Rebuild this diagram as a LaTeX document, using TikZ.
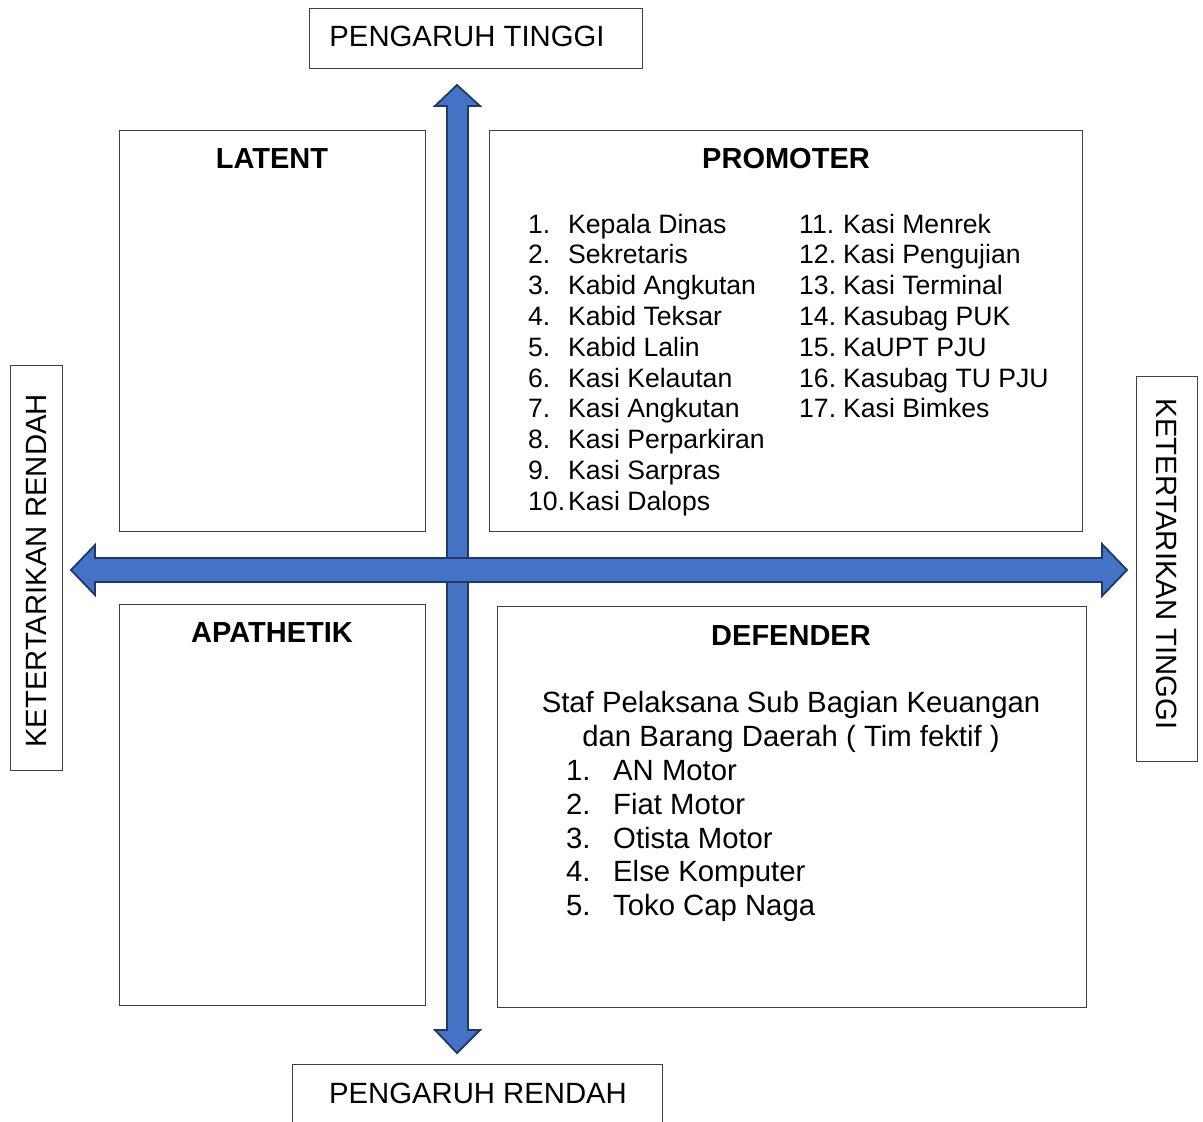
\documentclass[tikz,border=0pt]{standalone}
\usepackage{fontspec}
\setmainfont{Liberation Sans}
\definecolor{axisblue}{HTML}{4472C4}
\definecolor{axisline}{HTML}{1F3864}
\begin{document}
\begin{tikzpicture}[x=1pt,y=-1pt,
  box/.style={draw=black!75,line width=1pt,inner sep=0pt},
  ttl/.style={font=\fontsize{29}{33}\selectfont\bfseries,anchor=base,inner sep=0pt},
  lbl/.style={font=\fontsize{29.3}{33.7}\selectfont,anchor=base,inner sep=0pt},
  li/.style={font=\fontsize{26.6}{30.8}\selectfont,anchor=base west,inner sep=0pt},
  dl/.style={font=\fontsize{29.3}{33.7}\selectfont,anchor=base west,inner sep=0pt},
  axis/.style={fill=axisblue,draw=axisline,line width=1.8pt,line join=miter}]
\useasboundingbox (0,0) rectangle (1203,1122);
\fill[white] (0,0) rectangle (1203,1122);

% quadrant boxes
\node[box,minimum width=306pt,minimum height=401pt] (latent) at (272,330.5) {};
\node[box,minimum width=593pt,minimum height=401pt] (promoter) at (785.5,330.5) {};
\node[box,minimum width=306pt,minimum height=401pt] (apathetik) at (272,804.5) {};
\node[box,minimum width=589pt,minimum height=401pt] (defender) at (791.5,806.5) {};

% outer label boxes
\node[box,minimum width=333pt,minimum height=60pt] (topbox) at (475.5,38) {};
\node[box,minimum width=52pt,minimum height=405pt] (leftbox) at (36,567.5) {};
\node[box,minimum width=61pt,minimum height=385pt] (rightbox) at (1166.5,568.5) {};
\coordinate (bl) at (292,1122);
\coordinate (br) at (662,1122);
\draw[draw=black!75,line width=1pt] (bl) |- (477,1064) -| (br);

% axes
\draw[axis] (457,85) -- (480,106) -- (468,106) -- (468,1030) -- (480,1030) -- (457,1053)
  -- (435,1030) -- (447,1030) -- (447,106) -- (435,106) -- cycle;
\draw[axis] (71,570) -- (95,545) -- (95,558) -- (1102,558) -- (1102,544) -- (1127,570)
  -- (1102,596) -- (1102,582) -- (95,582) -- (95,595) -- cycle;

% labels
\node[lbl] (tinggi) at (467,46.5) {PENGARUH TINGGI};
\node[lbl] (rendah) at (478,1103.5) {PENGARUH RENDAH};
\node[lbl,rotate=90] (ketr) at (46.5,571) {KETERTARIKAN RENDAH};
\node[lbl,rotate=-90] (kett) at (1156.5,564) {KETERTARIKAN TINGGI};

% titles
\node[ttl] (tlatent) at (272,168.5) {LATENT};
\node[ttl] (tpromoter) at (786,168.5) {PROMOTER};
\node[ttl] (tapathetik) at (272,642.5) {APATHETIK};
\node[ttl] (tdefender) at (791,645.5) {DEFENDER};

% promoter list
\foreach \n/\t [count=\i from 0] in {1./Kepala Dinas,2./Sekretaris,3./Kabid Angkutan,4./Kabid Teksar,5./Kabid Lalin,6./Kasi Kelautan,7./Kasi Angkutan,8./Kasi Perparkiran,9./Kasi Sarpras,10./Kasi Dalops}{
  \node[li] (pa\i) at (528,233+30.8*\i) {\n};
  \node[li] (pb\i) at (568,233+30.8*\i) {\t};
}
\foreach \n/\t [count=\i from 0] in {11./Kasi Menrek,12./Kasi Pengujian,13./Kasi Terminal,14./Kasubag PUK,15./KaUPT PJU,16./Kasubag TU PJU,17./Kasi Bimkes}{
  \node[li] (qa\i) at (799,233+30.8*\i) {\n};
  \node[li] (qb\i) at (843,233+30.8*\i) {\t};
}

% defender text
\node[lbl] (d1) at (791,712.5) {Staf Pelaksana Sub Bagian Keuangan};
\node[lbl] (d2) at (791,746.3) {dan Barang Daerah ( Tim fektif )};
\foreach \n/\t [count=\i from 0] in {1./AN Motor,2./Fiat Motor,3./Otista Motor,4./Else Komputer,5./Toko Cap Naga}{
  \node[dl] (da\i) at (566,780.5+33.8*\i) {\n};
  \node[dl] (db\i) at (613,780.5+33.8*\i) {\t};
}
\end{tikzpicture}
\end{document}
